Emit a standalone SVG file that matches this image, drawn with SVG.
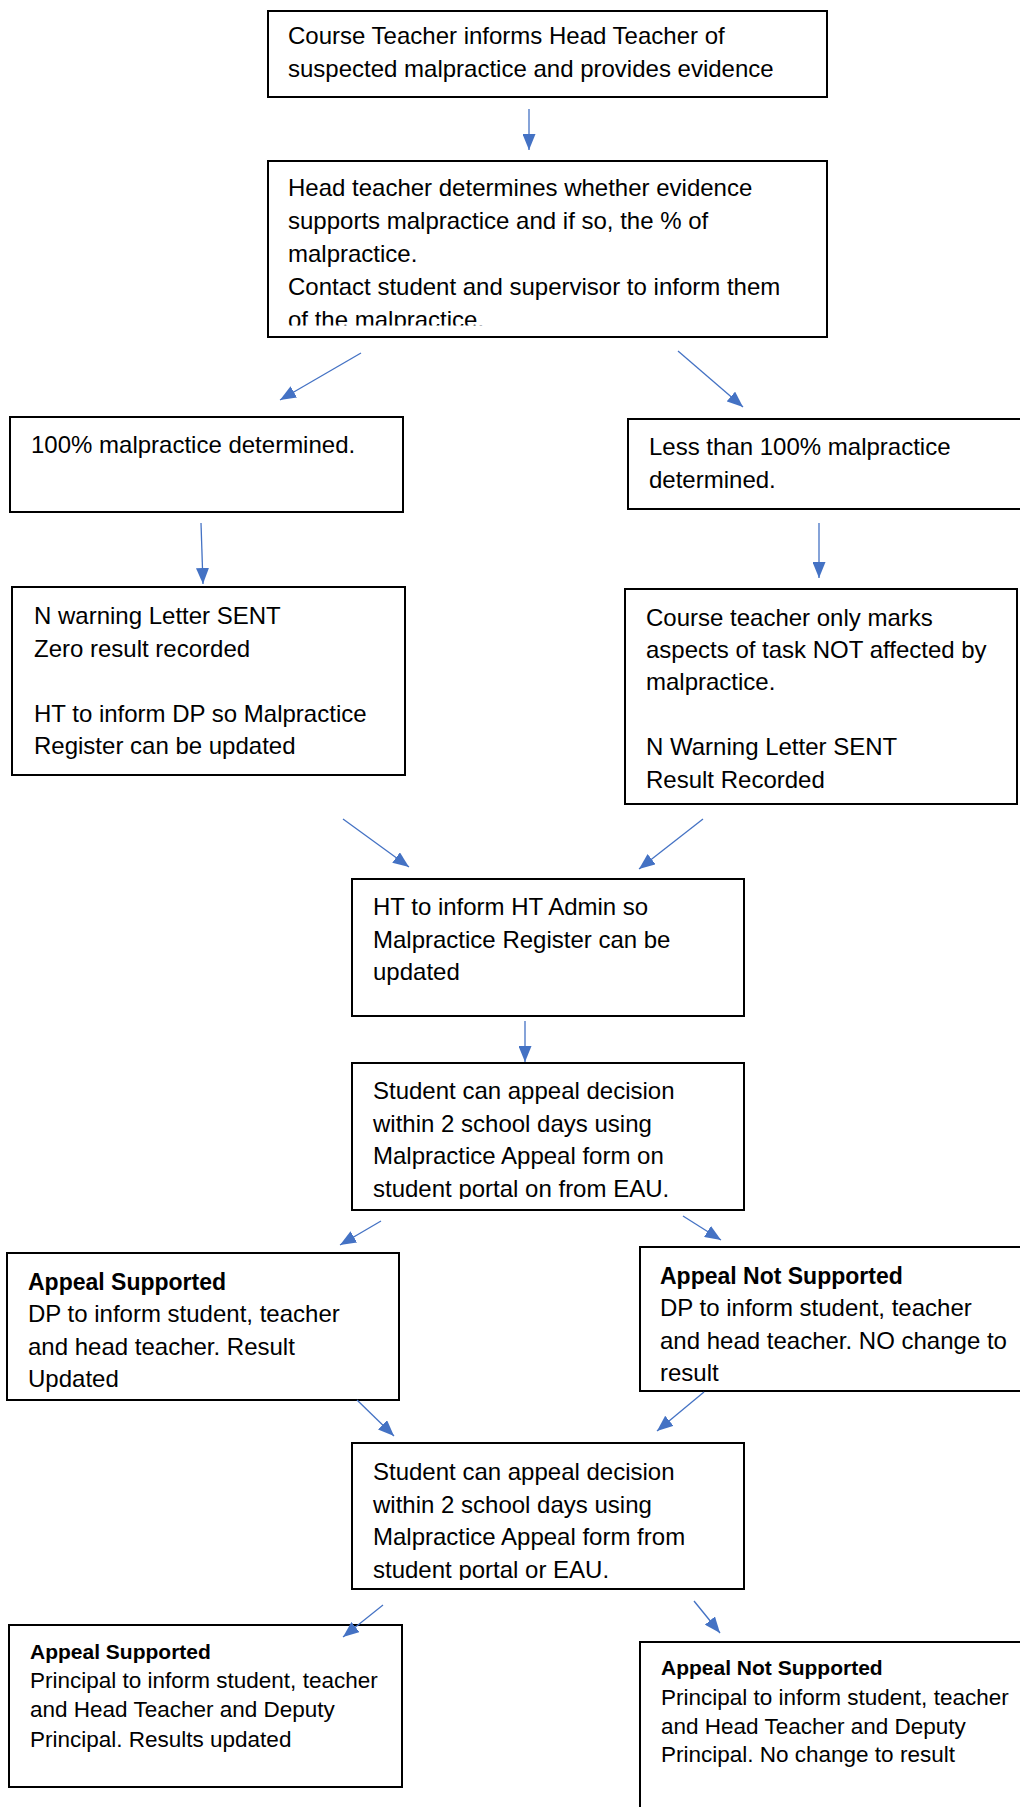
<svg xmlns="http://www.w3.org/2000/svg" width="1020" height="1807" viewBox="0 0 1020 1807">
<style>
.box{fill:#fff;stroke:#000;stroke-width:2}
.t{font-family:"Liberation Sans",Arial,sans-serif;font-size:24px;fill:#000}
.s{font-size:22.5px}
.b{font-weight:bold}
.b1{font-size:23px}
.b2{font-size:21px}
.c{fill:none;stroke:#4472C4;stroke-width:1.3;marker-end:url(#ah)}
</style>
<defs>
<marker id="ah" viewBox="0 0 16 13" refX="16" refY="6.5" markerWidth="16" markerHeight="13" markerUnits="userSpaceOnUse" orient="auto">
<path d="M0,0 L16,6.5 L0,13 z" fill="#4472C4"/>
</marker>
<clipPath id="cp2"><rect x="268" y="161" width="559" height="164.5"/></clipPath>
<clipPath id="cp8"><rect x="352" y="1063" width="392" height="136"/></clipPath>
<clipPath id="cp11"><rect x="352" y="1443" width="392" height="137"/></clipPath>
</defs>
<rect width="1020" height="1807" fill="#fff"/>

<g id="n1">
<rect class="box" x="268" y="11" width="559" height="86"/>
<text class="t" x="288" y="44">Course Teacher informs Head Teacher of</text>
<text class="t" x="288" y="77">suspected malpractice and provides evidence</text>
</g>

<g id="n2">
<rect class="box" x="268" y="161" width="559" height="176"/>
<g clip-path="url(#cp2)">
<text class="t" x="288" y="196">Head teacher determines whether evidence</text>
<text class="t" x="288" y="229">supports malpractice and if so, the % of</text>
<text class="t" x="288" y="262">malpractice.</text>
<text class="t" x="288" y="295">Contact student and supervisor to inform them</text>
<text class="t" x="288" y="328">of the malpractice.</text>
</g>
</g>

<g id="n3">
<rect class="box" x="10" y="417" width="393" height="95"/>
<text class="t" x="31" y="453">100% malpractice determined.</text>
</g>

<g id="n4">
<rect class="box" x="628" y="419" width="410" height="90"/>
<text class="t" x="649" y="455">Less than 100% malpractice</text>
<text class="t" x="649" y="488">determined.</text>
</g>

<g id="n5">
<rect class="box" x="12" y="587" width="393" height="188"/>
<text class="t" x="34" y="624">N warning Letter SENT</text>
<text class="t" x="34" y="656.5">Zero result recorded</text>
<text class="t" x="34" y="721.5">HT to inform DP so Malpractice</text>
<text class="t" x="34" y="754">Register can be updated</text>
</g>

<g id="n6">
<rect class="box" x="625" y="589" width="392" height="215"/>
<text class="t" x="646" y="626">Course teacher only marks</text>
<text class="t" x="646" y="658">aspects of task NOT affected by</text>
<text class="t" x="646" y="690">malpractice.</text>
<text class="t" x="646" y="755">N Warning Letter SENT</text>
<text class="t" x="646" y="787.5">Result Recorded</text>
</g>

<g id="n7">
<rect class="box" x="352" y="879" width="392" height="137"/>
<text class="t" x="373" y="915">HT to inform HT Admin so</text>
<text class="t" x="373" y="947.5">Malpractice Register can be</text>
<text class="t" x="373" y="980">updated</text>
</g>

<g id="n8">
<rect class="box" x="352" y="1063" width="392" height="147"/>
<g clip-path="url(#cp8)">
<text class="t" x="373" y="1099">Student can appeal decision</text>
<text class="t" x="373" y="1131.5">within 2 school days using</text>
<text class="t" x="373" y="1164">Malpractice Appeal form on</text>
<text class="t" x="373" y="1196.5">student portal on from EAU.</text>
</g>
</g>

<g id="n9">
<rect class="box" x="7" y="1253" width="392" height="147"/>
<text class="t b b1" x="28" y="1290">Appeal Supported</text>
<text class="t" x="28" y="1322">DP to inform student, teacher</text>
<text class="t" x="28" y="1354.5">and head teacher. Result</text>
<text class="t" x="28" y="1386.5">Updated</text>
</g>

<g id="n10">
<rect class="box" x="640" y="1247" width="400" height="144"/>
<text class="t b b1" x="660" y="1283.5">Appeal Not Supported</text>
<text class="t" x="660" y="1316">DP to inform student, teacher</text>
<text class="t" x="660" y="1348.5">and head teacher. NO change to</text>
<text class="t" x="660" y="1381">result</text>
</g>

<g id="n11">
<rect class="box" x="352" y="1443" width="392" height="146"/>
<g clip-path="url(#cp11)">
<text class="t" x="373" y="1479.5">Student can appeal decision</text>
<text class="t" x="373" y="1512.5">within 2 school days using</text>
<text class="t" x="373" y="1545">Malpractice Appeal form from</text>
<text class="t" x="373" y="1577.5">student portal or EAU.</text>
</g>
</g>

<g id="n12">
<rect class="box" x="9" y="1625" width="393" height="162"/>
<text class="t b b2" x="30" y="1658.5">Appeal Supported</text>
<text class="t s" x="30" y="1688">Principal to inform student, teacher</text>
<text class="t s" x="30" y="1717">and Head Teacher and Deputy</text>
<text class="t s" x="30" y="1746.5">Principal. Results updated</text>
</g>

<g id="n13">
<rect class="box" x="640" y="1642" width="400" height="180"/>
<text class="t b b2" x="661" y="1675">Appeal Not Supported</text>
<text class="t s" x="661" y="1705">Principal to inform student, teacher</text>
<text class="t s" x="661" y="1733.5">and Head Teacher and Deputy</text>
<text class="t s" x="661" y="1762">Principal. No change to result</text>
</g>

<g id="connectors">
<line class="c" x1="529" y1="109" x2="529" y2="150"/>
<line class="c" x1="361" y1="353" x2="280" y2="400"/>
<line class="c" x1="678" y1="351" x2="743" y2="407"/>
<line class="c" x1="201" y1="523" x2="203" y2="584"/>
<line class="c" x1="819" y1="523" x2="819" y2="578"/>
<line class="c" x1="343" y1="819" x2="409" y2="867"/>
<line class="c" x1="703" y1="819" x2="639" y2="869"/>
<line class="c" x1="525" y1="1021" x2="525" y2="1062"/>
<line class="c" x1="381" y1="1221" x2="340" y2="1245"/>
<line class="c" x1="683" y1="1216" x2="721" y2="1240"/>
<line class="c" x1="357" y1="1400" x2="394" y2="1436"/>
<line class="c" x1="704" y1="1392" x2="657" y2="1431"/>
<line class="c" x1="383" y1="1605" x2="343" y2="1637"/>
<line class="c" x1="694" y1="1601" x2="720" y2="1633"/>
</g>
</svg>
